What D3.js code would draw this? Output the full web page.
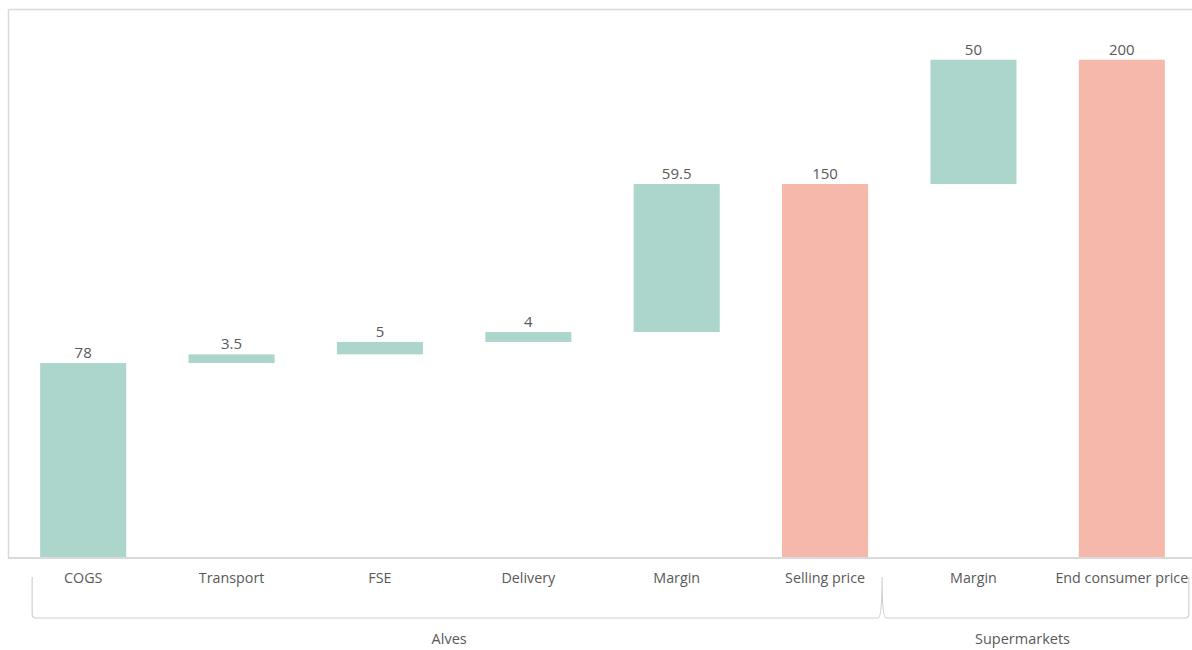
<!DOCTYPE html>
<html>
<head>
<meta charset="utf-8">
<script src="https://cdn.jsdelivr.net/npm/d3@7"></script>
<style>
  html, body { margin: 0; padding: 0; background: #fff; }
  svg { display: block; }
  text { font-family: "Open Sans", "Noto Sans", sans-serif; fill: #595959; }
</style>
</head>
<body>
<svg id="chart" width="1192" height="650"></svg>
<script>
// ---- data ----
const categories = ["COGS", "Transport", "FSE", "Delivery", "Margin", "Selling price", "Margin", "End consumer price"];
const values = [78, 3.5, 5, 4, 59.5, 150, 50, 200];
const kinds = ["step", "step", "step", "step", "step", "total", "step", "total"];
const groups = ["Alves", "Supermarkets"];
const groupOf = [0, 0, 0, 0, 0, 0, 1, 1];
const valueLabels = ["78", "3.5", "5", "4", "59.5", "150", "50", "200"];

// ---- layout ----
const W = 1192, H = 650;
const baseY = 557, topY = 10;
const svg = d3.select("#chart");

const x = d3.scaleBand()
  .domain(d3.range(categories.length))
  .range([9, 1196])
  .paddingInner(0.42)
  .paddingOuter(0.21);

const y = d3.scaleLinear().domain([0, 220]).range([baseY, topY]);

// compute waterfall bases
let running = 0;
const bars = values.map((v, i) => {
  let lo, hi;
  if (kinds[i] === "total") { lo = 0; hi = v; running = v; }
  else { lo = running; hi = running + v; running = hi; }
  return { i, lo, hi, kind: kinds[i], label: valueLabels[i] };
});

// frame
const frame = svg.append("g").attr("fill", "none").attr("stroke", "#d9d9d9").attr("stroke-width", 1.5);
frame.append("line").attr("x1", 8.5).attr("x2", W).attr("y1", 9.5).attr("y2", 9.5);
frame.append("line").attr("x1", 8.5).attr("x2", 8.5).attr("y1", 9.5).attr("y2", baseY + 1);

// bars
svg.append("g").selectAll("rect").data(bars).join("rect")
  .attr("x", d => x(d.i))
  .attr("width", x.bandwidth())
  .attr("y", d => y(d.hi))
  .attr("height", d => y(d.lo) - y(d.hi))
  .attr("fill", d => d.kind === "total" ? "#f5b8aa" : "#acd6cc");

// value labels
svg.append("g").selectAll("text").data(bars).join("text")
  .attr("x", d => x(d.i) + x.bandwidth() / 2)
  .attr("y", d => y(d.hi) - 5)
  .attr("text-anchor", "middle")
  .attr("font-size", 15)
  .text(d => d.label);

// axis line
svg.append("line").attr("x1", 8).attr("x2", W).attr("y1", baseY + 1).attr("y2", baseY + 1)
  .attr("stroke", "#d9d9d9").attr("stroke-width", 2);

// category axis
const xAxis = d3.axisBottom(x).tickSize(0).tickPadding(0).tickFormat(i => categories[i]);
const ax = svg.append("g").attr("transform", `translate(0,${baseY})`).call(xAxis);
ax.select(".domain").remove();
ax.selectAll("text").attr("dy", null).attr("y", 26).attr("font-size", 14.3).attr("fill", "#595959");

// group brackets
const bw = x.bandwidth();
const left = x(0) - 8;
const divider = x(5) + bw + 14;
const right = x(7) + bw + 24;
const by = 618, btop = 577, r = 4;
const p = d3.path();
p.moveTo(left, btop);
p.lineTo(left, by - r);
p.quadraticCurveTo(left, by, left + r, by);
p.lineTo(divider - r, by);
p.quadraticCurveTo(divider, by, divider, btop);
p.quadraticCurveTo(divider, by, divider + r, by);
p.lineTo(right - r, by);
p.quadraticCurveTo(right, by, right, by - r);
p.lineTo(right, btop);
svg.append("path").attr("d", p.toString()).attr("fill", "none")
  .attr("stroke", "#d0d0d0").attr("stroke-width", 1.2);

// group labels
const groupCenters = [(left + divider) / 2 - 8, (divider + right) / 2 - 13];
svg.append("g").selectAll("text").data(groups).join("text")
  .attr("x", (d, i) => groupCenters[i])
  .attr("y", 644)
  .attr("text-anchor", "middle")
  .attr("font-size", 14.5)
  .attr("fill", "#262626")
  .text(d => d);
</script>
</body>
</html>
